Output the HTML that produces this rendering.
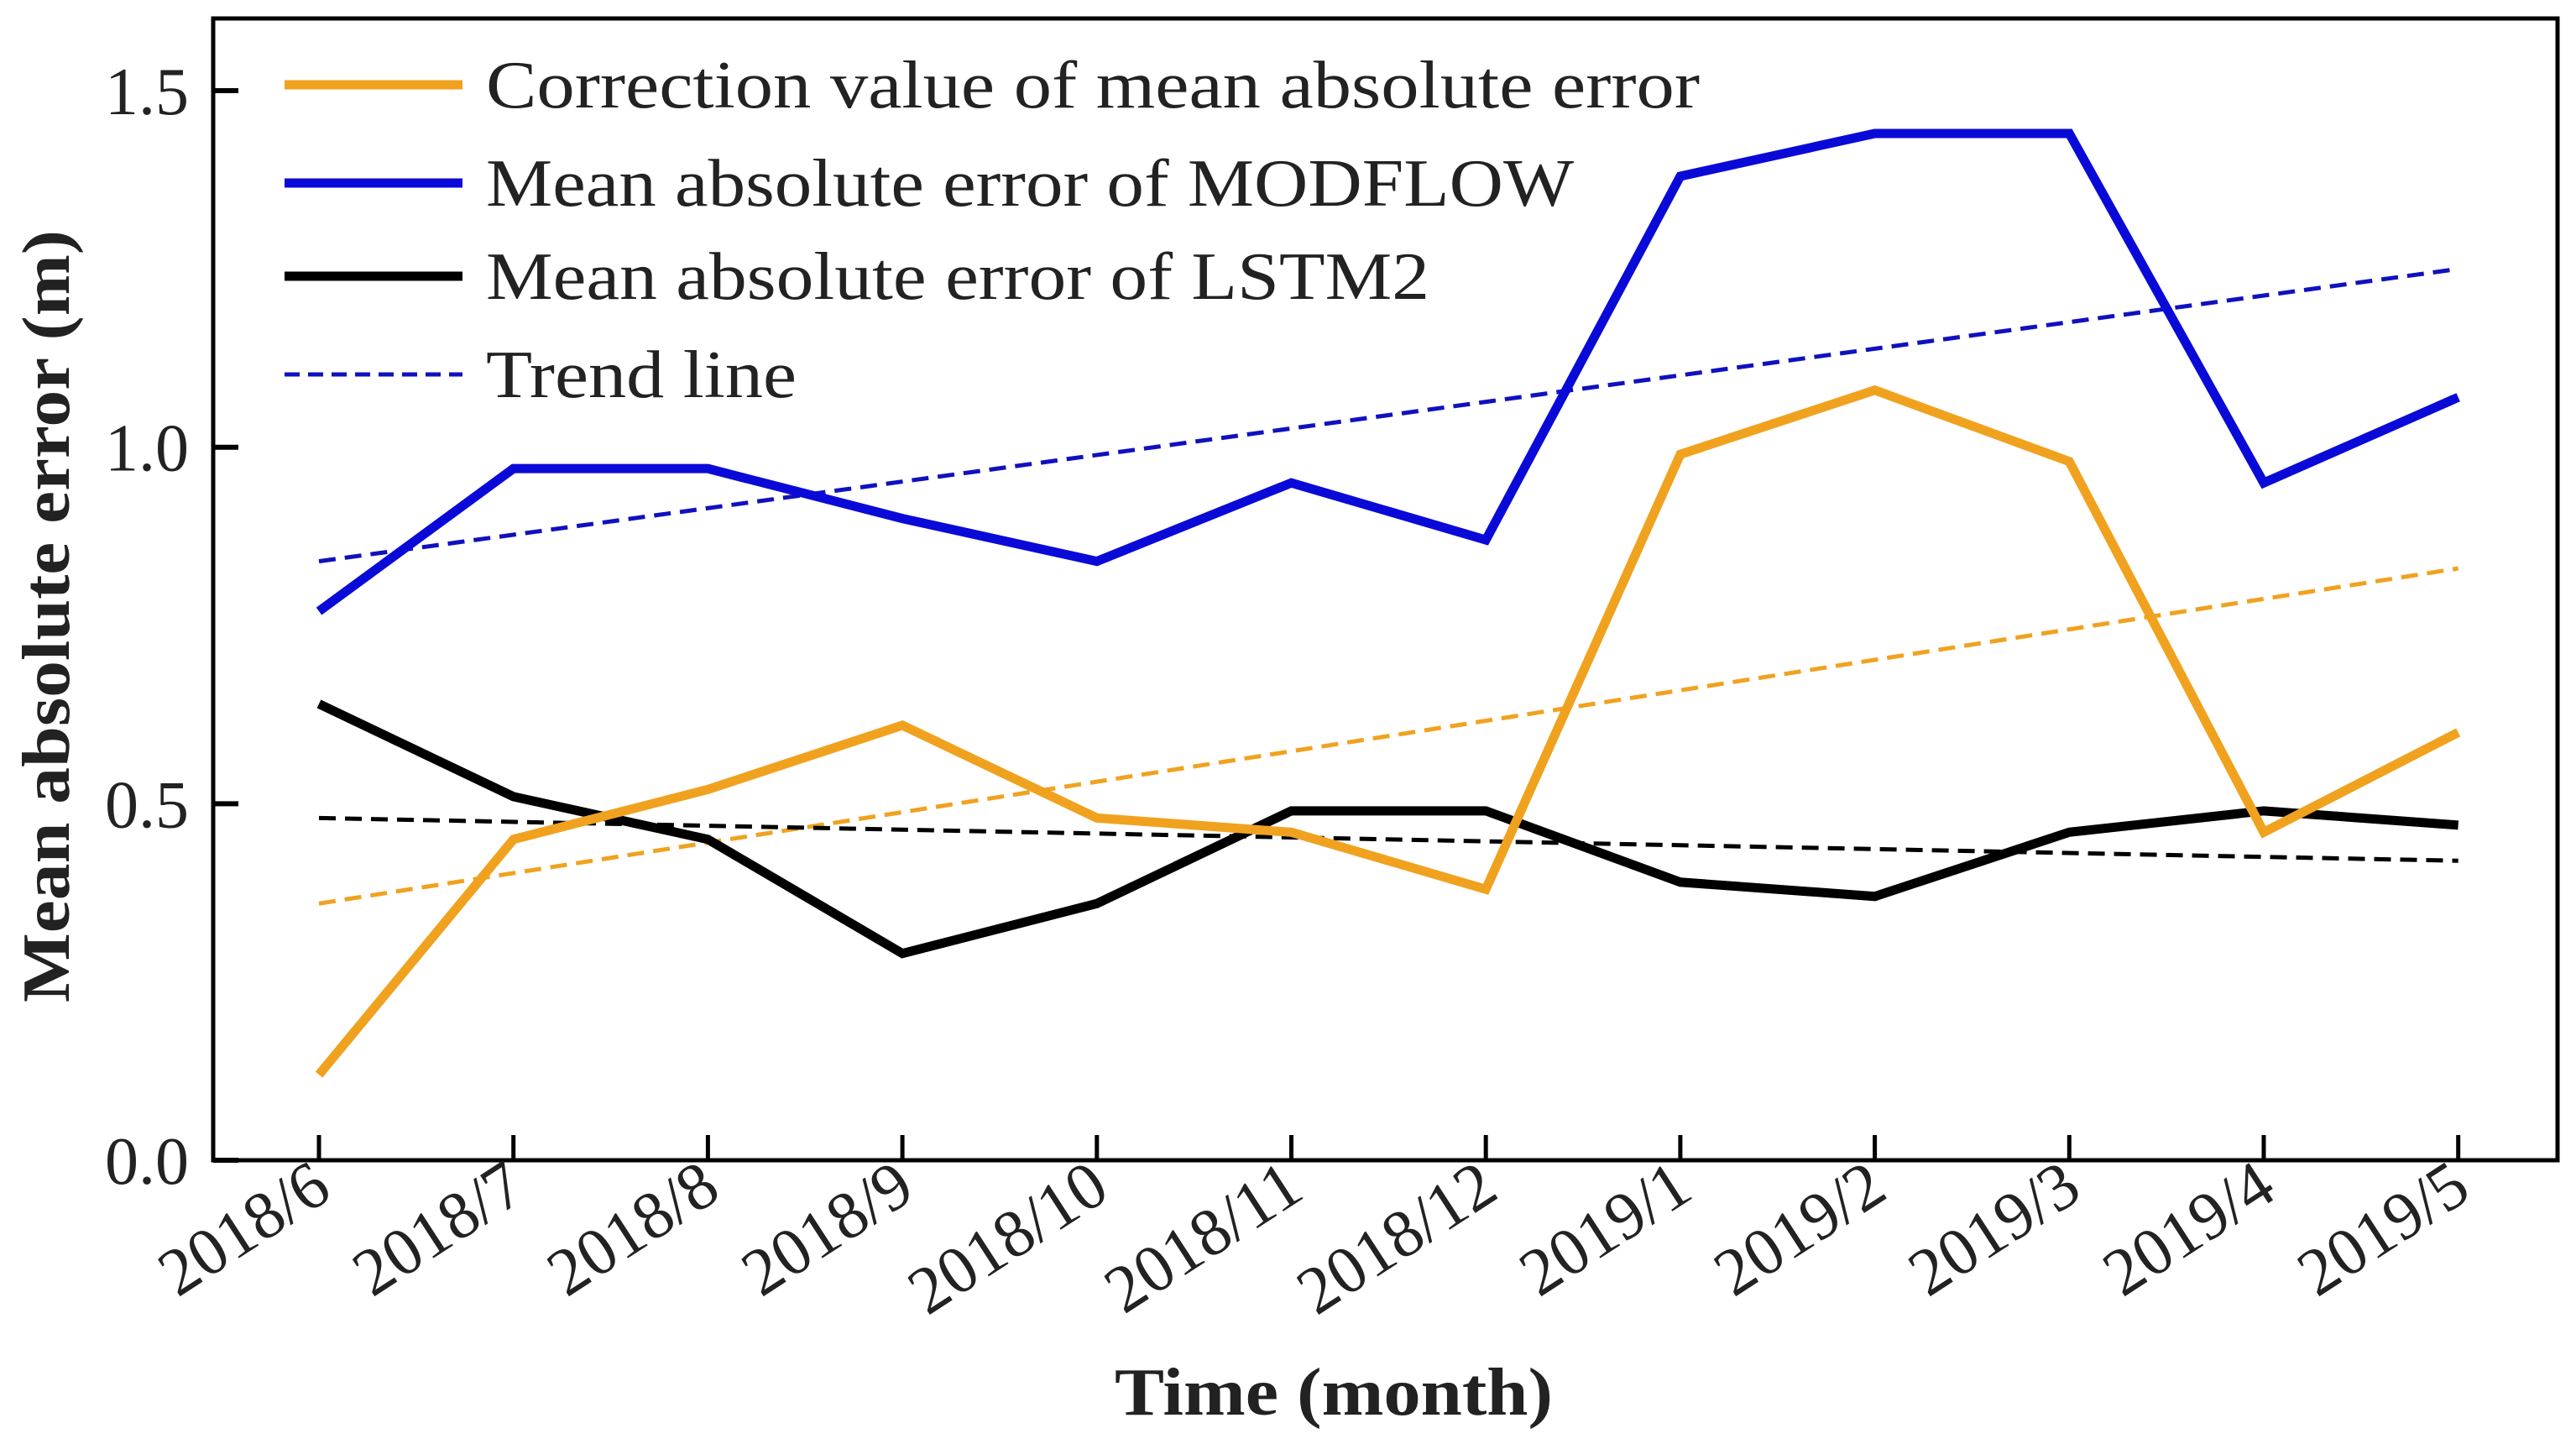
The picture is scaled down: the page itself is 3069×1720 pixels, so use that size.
<!DOCTYPE html>
<html><head><meta charset="utf-8">
<style>
html,body{margin:0;padding:0;background:#fff;}
svg{display:block;font-family:"Liberation Serif",serif;}
</style></head>
<body>
<svg id="chart" width="3069" height="1720" viewBox="0 0 3069 1720" xmlns="http://www.w3.org/2000/svg">
<rect x="0" y="0" width="3069" height="1720" fill="#fff"/>
<g id="plot"></g>
<g id="axes"></g>
<g id="legend">
  <line x1="339" y1="101" x2="551" y2="101" stroke="#f0a21f" stroke-width="11"/>
  <text x="579" y="128" font-size="80" fill="#222" textLength="1446" lengthAdjust="spacingAndGlyphs">Correction value of mean absolute error</text>
  <line x1="339" y1="218" x2="551" y2="218" stroke="#0a0ad8" stroke-width="11"/>
  <text x="579" y="245" font-size="80" fill="#222" textLength="1296" lengthAdjust="spacingAndGlyphs">Mean absolute error of MODFLOW</text>
  <line x1="339" y1="329" x2="551" y2="329" stroke="#000" stroke-width="11"/>
  <text x="579" y="356" font-size="80" fill="#222" textLength="1124" lengthAdjust="spacingAndGlyphs">Mean absolute error of LSTM2</text>
  <line x1="339" y1="446" x2="551" y2="446" stroke="#1010c0" stroke-width="5" stroke-dasharray="18,10"/>
  <text x="579" y="473" font-size="80" fill="#222" textLength="370" lengthAdjust="spacingAndGlyphs">Trend line</text>
</g>
<text x="1328" y="1685" font-size="80" font-weight="bold" fill="#222" textLength="522" lengthAdjust="spacingAndGlyphs">Time (month)</text>
<text transform="translate(82,1194) rotate(-90)" font-size="80" font-weight="bold" fill="#222" textLength="920" lengthAdjust="spacingAndGlyphs">Mean absolute error (m)</text>
</svg>
<script>
const categories = ["2018/6","2018/7","2018/8","2018/9","2018/10","2018/11","2018/12","2019/1","2019/2","2019/3","2019/4","2019/5"];
const correctionValues = [0.12,0.45,0.52,0.61,0.48,0.46,0.38,0.99,1.08,0.98,0.46,0.60];
const modflowValues = [0.77,0.97,0.97,0.90,0.84,0.95,0.87,1.38,1.44,1.44,0.95,1.07];
const lstm2Values = [0.64,0.51,0.45,0.29,0.36,0.49,0.49,0.39,0.37,0.46,0.49,0.47];
const trendModflow = [0.84,1.25];
const trendCorrection = [0.36,0.83];
const trendLstm2 = [0.48,0.42];
const yTicks = [0.0,0.5,1.0,1.5];
const yTickLabels = ["0.0","0.5","1.0","1.5"];

const NS="http://www.w3.org/2000/svg";
const plotLeft=254, plotRight=3047, plotTop=22, plotBottom=1382;
const x0=380, dx=231.7;
function xs(i){return x0+i*dx;}
function ys(v){return plotBottom-v*849.3;}
function mk(tag,attrs,parent){const e=document.createElementNS(NS,tag);for(const k in attrs)e.setAttribute(k,attrs[k]);parent.appendChild(e);return e;}
const plotG=document.getElementById('plot');
const axesG=document.getElementById('axes');

function trend(vals,color,name){
  const l=mk('line',{x1:xs(0),y1:ys(vals[0]),x2:xs(categories.length-1),y2:ys(vals[1]),stroke:color,'stroke-width':5,'stroke-dasharray':'20,11'},plotG);
  
  
}
trend(trendModflow,'#1010c0','trend-line-modflow');
trend(trendCorrection,'#f0a21f','trend-line-correction');
trend(trendLstm2,'#000','trend-line-lstm2');

function series(vals,color,name){
  const pts=vals.map((v,i)=>xs(i)+','+ys(v)).join(' ');
  const p=mk('polyline',{points:pts,fill:'none',stroke:color,'stroke-width':11,'stroke-linejoin':'miter'},plotG);
  
  
}
series(lstm2Values,'#000','series-lstm2');
series(modflowValues,'#0a0ad8','series-modflow');
series(correctionValues,'#f0a21f','series-correction');

const frame=mk('rect',{x:plotLeft,y:plotTop,width:plotRight-plotLeft,height:plotBottom-plotTop,fill:'none',stroke:'#000','stroke-width':5},axesG);


yTicks.forEach((v,i)=>{
  const t=mk('line',{x1:plotLeft,y1:ys(v),x2:plotLeft+30,y2:ys(v),stroke:'#000','stroke-width':6},axesG);
  
  
  const lb=mk('text',{x:225,y:ys(v)+28,'font-size':80,'text-anchor':'end',fill:'#222'},axesG);
  lb.textContent=yTickLabels[i];
  
  
});
categories.forEach((c,i)=>{
  const t=mk('line',{x1:xs(i),y1:plotBottom,x2:xs(i),y2:plotBottom-30,stroke:'#000','stroke-width':5},axesG);
  
  
  const lb=mk('text',{transform:'translate('+(xs(i)+18)+',1425) rotate(-33)','font-size':80,'text-anchor':'end',fill:'#222'},axesG);
  lb.textContent=c;
  
  
});
</script>
</body></html>
